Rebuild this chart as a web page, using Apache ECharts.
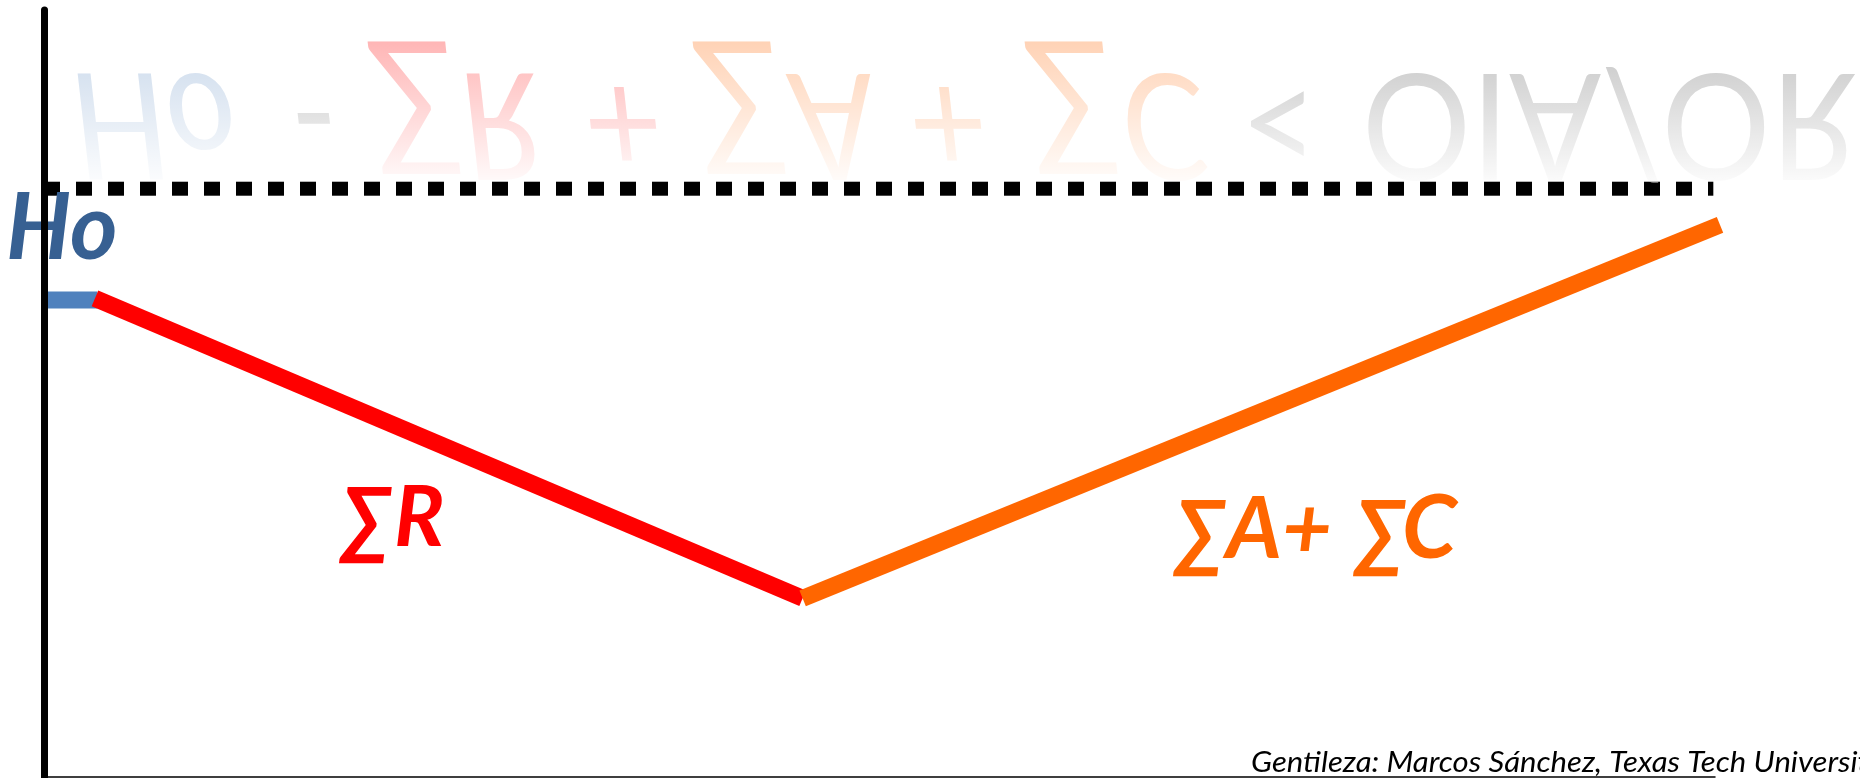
<!DOCTYPE html>
<html><head><meta charset="utf-8">
<script src="https://cdn.jsdelivr.net/npm/echarts@6/dist/echarts.min.js"></script>
<style>html,body{margin:0;padding:0;background:#fff;overflow:hidden}#c{width:1860px;height:778px}</style>
</head><body><div id="c"></div>
<script>
// ---- data ----
const hoX = [0.2, 3.2];
const hoY = [62.2, 62.2];
const rX = [3.05, 45.4];
const rY = [62.4, 23.3];
const acX = [45.4, 100.3];
const acY = [23.3, 72.0];
const limX = [0, 99.9];
const limY = [76.7, 76.7];
const titleParts = ['Ho', '-', '∑', 'R', '+', '∑', 'A', '+', '∑', 'C', '<', 'OIA/OR'];
const labelHo = ['Ho'];
const labelR = ['∑', 'R'];
const labelAC = ['∑', 'A+ ', '∑', 'C'];
const credit = ['Gentileza: Marcos Sánchez, Texas Tech University'];

// ---- layout / style ----
const titleX = [71, 290, 371, 460, 583, 696, 790, 908, 1028, 1121, 1240, 1362];
const titleColor = ['#cad9eb', '#c4c4c4', '#ffb3b3', '#ffb3b3', '#ffb3b3', '#ffd1b3', '#ffd1b3', '#ffd1b3', '#ffd1b3', '#ffd1b3', '#c4c4c4', '#c4c4c4'];
const titleItalic = [1, 1, 1, 1, 1, 1, 1, 1, 1, 1, 0, 0];

const zip = (xs, ys) => xs.map((x, i) => [x, ys[i]]);
const chart = echarts.init(document.getElementById('c'), null, {renderer: 'canvas'});

const graphics = titleParts.map((t, i) => {
  const big = t === '∑';
  return {
    type: 'text', x: titleX[i], y: big ? 115 : 122, scaleY: -1, scaleX: big ? 0.94 : 0.92, z: 4,
    style: {
      text: t, fill: titleColor[i],
      font: (titleItalic[i] ? 'italic ' : '') + (big ? 149 : 148) + 'px Lato',
      textAlign: 'left', textVerticalAlign: 'middle', verticalAlign: 'middle'
    }
  };
});
graphics.push({
  type: 'rect', z: 5, silent: true,
  shape: {x: 55, y: 36, width: 1805, height: 145},
  style: {fill: new echarts.graphic.LinearGradient(0, 0, 0, 1, [
    {offset: 0, color: 'rgba(255,255,255,0)'},
    {offset: 1, color: 'rgba(255,255,255,0.93)'}
  ])}
});
const lab = (t, x, y, font, color, sx) => ({
  type: 'text', x, y, z: 3, scaleX: sx || 1,
  style: {text: t, fill: color, font, textAlign: 'left', textVerticalAlign: 'middle', verticalAlign: 'middle'}
});
graphics.push(lab(labelHo[0], 6, 230, 'italic bold 91px Lato', '#376092'));
graphics.push(lab(labelR[0], 341, 521.5, 'italic bold 86px Lato', '#FF0000', 0.92));
graphics.push(lab(labelR[1], 394, 519, 'italic bold 84px Lato', '#FF0000'));
graphics.push(lab(labelAC[0], 1175, 534, 'italic bold 86px Lato', '#FF6600', 0.92));
graphics.push(lab(labelAC[1], 1226, 530, 'italic bold 86px Lato', '#FF6600'));
graphics.push(lab(labelAC[2], 1355, 534, 'italic bold 86px Lato', '#FF6600', 0.92));
graphics.push(lab(labelAC[3], 1402, 530, 'italic bold 88px Lato', '#FF6600'));
graphics.push(lab(credit[0], 1251, 763, 'italic 28px Lato', '#000000', 1.11));

const line = (xs, ys, color, width, type) => ({
  type: 'line', data: zip(xs, ys), symbol: 'none', showSymbol: false, clip: false,
  silent: true, animation: false, z: 2,
  lineStyle: {color, width, type: type || 'solid', cap: 'butt', dashOffset: 0}
});

chart.setOption({
  animation: false,
  backgroundColor: '#ffffff',
  grid: {left: 44, right: 145, top: 10, bottom: 1, containLabel: false},
  xAxis: {type: 'value', min: 0, max: 100, z: 50,
    axisLine: {show: true, lineStyle: {color: '#000', width: 1.5}},
    axisTick: {show: false}, axisLabel: {show: false}, splitLine: {show: false}},
  yAxis: {type: 'value', min: 0, max: 100, z: 50,
    axisLine: {show: true, onZero: false, lineStyle: {color: '#000', width: 7}},
    axisTick: {show: false}, axisLabel: {show: false}, splitLine: {show: false}},
  series: [
    line(limX, limY, '#000000', 14, [16, 16]),
    line(hoX, hoY, '#4F81BD', 17),
    line(rX, rY, '#FF0000', 17),
    line(acX, acY, '#FF6600', 17)
  ],
  graphic: {elements: graphics}
});
</script></body></html>
